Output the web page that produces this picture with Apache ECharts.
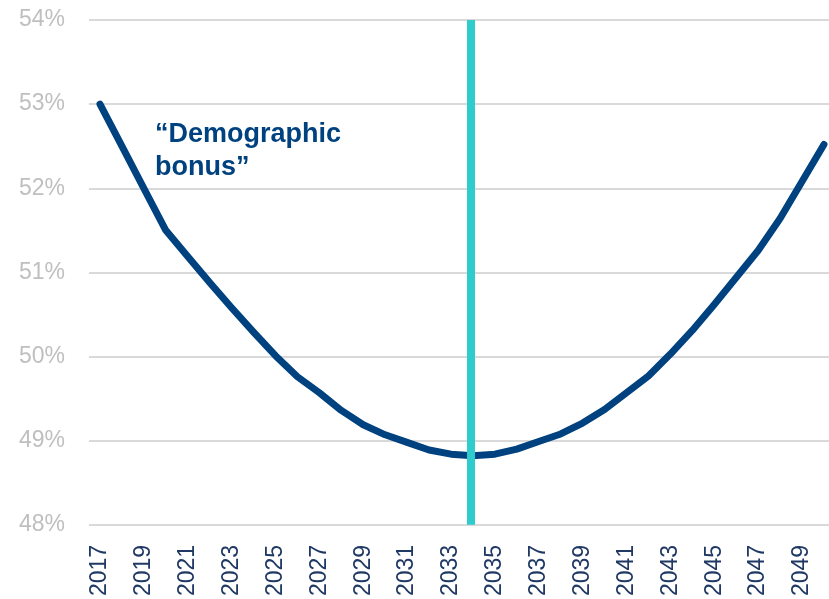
<!DOCTYPE html>
<html>
<head>
<meta charset="utf-8">
<script src="https://cdn.jsdelivr.net/npm/echarts@6/dist/echarts.min.js"></script>
<style>
  html, body { margin: 0; padding: 0; background: #fff; }
  #chart { width: 829px; height: 599px; }
</style>
</head>
<body>
<div id="chart"></div>
<script>
// years on the x axis
const years = [2017, 2018, 2019, 2020, 2021, 2022, 2023, 2024, 2025, 2026, 2027, 2028,
  2029, 2030, 2031, 2032, 2033, 2034, 2035, 2036, 2037, 2038, 2039, 2040,
  2041, 2042, 2043, 2044, 2045, 2046, 2047, 2048, 2049, 2050]
// ratio in %
const ratio = [53.00, 52.50, 52.00, 51.50, 51.19, 50.88, 50.58, 50.29, 50.01, 49.76, 49.57, 49.36,
  49.19, 49.07, 48.98, 48.89, 48.84, 48.82, 48.84, 48.90, 48.99, 49.08, 49.21, 49.37,
  49.57, 49.77, 50.03, 50.31, 50.62, 50.94, 51.26, 51.64, 52.08, 52.52]
// labelled years (every other one)
const yearLabels = [2017, 2019, 2021, 2023, 2025, 2027, 2029, 2031, 2033, 2035, 2037, 2039,
  2041, 2043, 2045, 2047, 2049]
const markerYear = 2033.9
const noteText = '“Demographic\nbonus”'

const chart = echarts.init(document.getElementById('chart'))

chart.setOption({
  animation: false,
  grid: { left: 89, right: 0, top: 20, bottom: 74 },
  xAxis: {
    type: 'value',
    min: 2016.5,
    max: 2050.23,
    axisLine: { show: false },
    axisTick: { show: false },
    splitLine: { show: false },
    axisLabel: {
      customValues: yearLabels,
      rotate: 90,
      margin: 20,
      color: '#1F3864',
      fontSize: 23,
      fontFamily: 'Liberation Sans',
      formatter: v => String(v)
    }
  },
  yAxis: {
    type: 'value',
    min: 48,
    max: 54,
    interval: 1,
    axisLine: { show: false },
    axisTick: { show: false },
    splitLine: { lineStyle: { color: '#D9D9D9', width: 2 } },
    axisLabel: {
      formatter: '{value}%',
      margin: 24,
      color: '#BFBFBF',
      fontSize: 23,
      fontFamily: 'Liberation Sans'
    }
  },
  series: [
    {
      // the cyan marker line
      type: 'line',
      data: [],
      z: 1,
      markLine: {
        silent: true,
        symbol: 'none',
        label: { show: false },
        lineStyle: { color: '#2ECCCC', width: 8, type: 'solid' },
        data: [{ xAxis: markerYear }]
      }
    },
    {
      type: 'line',
      z: 3,
      showSymbol: false,
      data: years.map((y, i) => [y, ratio[i]]),
      lineStyle: { color: '#00427F', width: 7, cap: 'round', join: 'round' }
    }
  ],
  graphic: [{
    type: 'text',
    left: 155,
    top: 118,
    style: {
      text: noteText,
      fill: '#00427F',
      font: 'bold 27px "Liberation Sans"',
      lineHeight: 33
    }
  }]
})
</script>
</body>
</html>
